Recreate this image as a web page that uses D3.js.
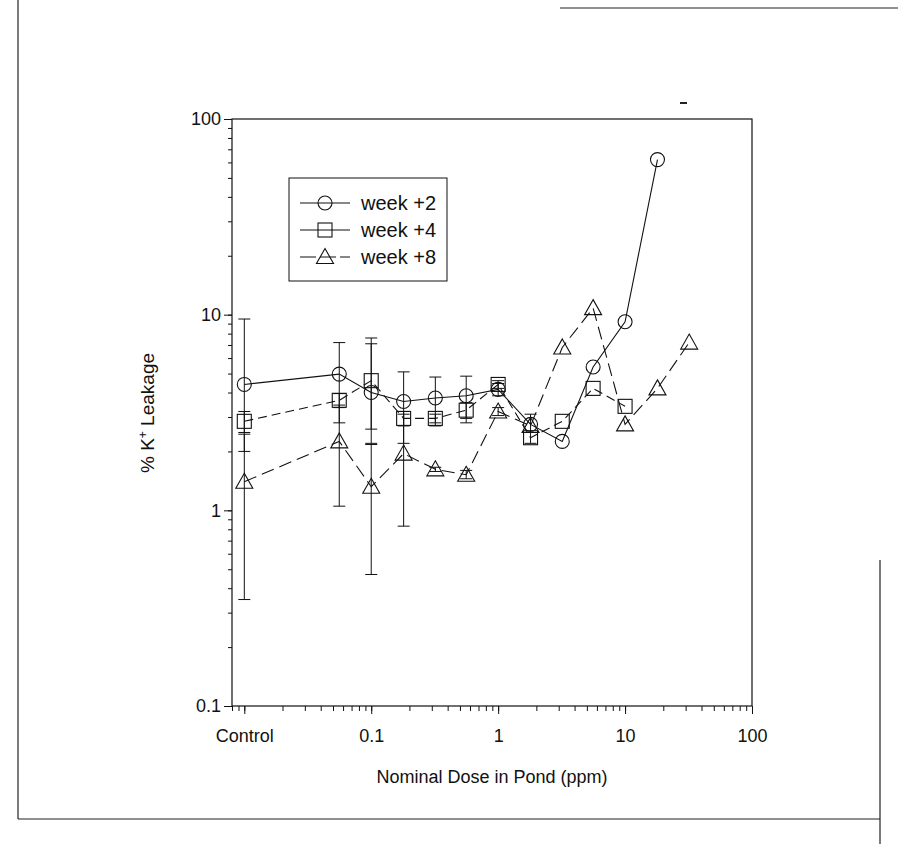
<!DOCTYPE html>
<html><head><meta charset="utf-8">
<script src="https://cdn.jsdelivr.net/npm/d3@7"></script>
<style>body{margin:0;background:#fff;} svg{display:block;} text{font-family:"Liberation Sans",Arial,sans-serif;fill:#111;}</style>
</head><body><svg id="c" width="898" height="844"></svg>
<script>
const doses = [0.01, 0.056, 0.1, 0.18, 0.32, 0.56, 1, 1.8, 3.2, 5.6, 10, 18, 32];
const week2 = [4.4, 4.97, 4.0, 3.6, 3.75, 3.85, 4.15, 2.75, 2.25, 5.4, 9.2, 62, null];
const week2Low = [2.0, 2.8, 2.6, 2.2, 2.7, 2.8, 3.85, 2.5, null, null, null, null, null];
const week2High = [9.5, 7.2, 7.1, 5.1, 4.8, 4.85, 4.45, 3.1, null, null, null, null, null];
const week4 = [2.85, 3.65, 4.6, 2.95, 2.95, 3.25, 4.4, 2.35, 2.85, 4.2, 3.4, null, null];
const week4Low = [2.5, 3.35, 2.2, 2.7, 2.8, 2.95, 4.2, 2.2, null, null, null, null, null];
const week4High = [3.2, 3.95, 7.6, 3.2, 3.1, 3.55, 4.6, 2.5, null, null, null, null, null];
const week8 = [1.4, 2.25, 1.32, 1.95, 1.62, 1.52, 3.2, 2.7, 6.8, 10.8, 2.75, 4.2, 7.2];
const week8Low = [0.35, 1.05, 0.47, 0.83, 1.58, 1.45, 3.05, null, null, null, null, null, null];
const week8High = [2.45, 3.45, 2.17, 3.1, 1.66, 1.6, 3.35, null, null, null, null, null, null];
const seriesNames = ["week +2", "week +4", "week +8"];
const xTickVals = [0.01, 0.1, 1, 10, 100];
const xTickLabels = ["Control", "0.1", "1", "10", "100"];
const yTickVals = [0.1, 1, 10, 100];
const yTickLabels = ["0.1", "1", "10", "100"];

const svg = d3.select("#c");
const x = d3.scaleLog().domain([0.008, 100]).range([232, 752]);
const y = d3.scaleLog().domain([0.1, 100]).range([706, 119]);

// page frame lines (scanned page border)
const frame = svg.append("g").attr("stroke", "#222").attr("fill", "none");
frame.append("line").attr("x1", 18).attr("y1", 0).attr("x2", 18).attr("y2", 819).attr("stroke-width", 1.2);
frame.append("line").attr("x1", 18).attr("y1", 819).attr("x2", 880).attr("y2", 819).attr("stroke-width", 1.2);
frame.append("line").attr("x1", 880).attr("y1", 560).attr("x2", 880).attr("y2", 844).attr("stroke-width", 1.2);
frame.append("line").attr("x1", 560).attr("y1", 8).attr("x2", 898).attr("y2", 8).attr("stroke-width", 1.2);
frame.append("line").attr("x1", 680).attr("y1", 103).attr("x2", 687).attr("y2", 103).attr("stroke-width", 2);

// plot box
svg.append("rect").attr("x", 232).attr("y", 119).attr("width", 520).attr("height", 587)
  .attr("fill", "none").attr("stroke", "#111").attr("stroke-width", 1.2);

// axes
const xMinor = [];
for (let e = -3; e < 2; e++) for (let m = 1; m < 10; m++) { const v = m * Math.pow(10, e); if (v >= 0.008 && v <= 100) xMinor.push(v); }
const yMinor = [];
for (let e = -1; e < 2; e++) for (let m = 1; m < 10; m++) { const v = m * Math.pow(10, e); if (v >= 0.1 && v <= 100) yMinor.push(v); }
yMinor.push(100);

const xAx = svg.append("g").attr("transform", "translate(0,706)")
  .call(d3.axisBottom(x).tickValues(xMinor).tickSize(5).tickFormat(""));
xAx.select(".domain").remove();
const xAxMaj = svg.append("g").attr("transform", "translate(0,706)")
  .call(d3.axisBottom(x).tickValues(xTickVals).tickSize(8).tickPadding(15)
    .tickFormat((d, i) => xTickLabels[i]));
xAxMaj.select(".domain").remove();
xAxMaj.selectAll("text").attr("font-size", 18);

const yAx = svg.append("g").attr("transform", "translate(232,0)")
  .call(d3.axisLeft(y).tickValues(yMinor).tickSize(4).tickFormat(""));
yAx.select(".domain").remove();
const yAxMaj = svg.append("g").attr("transform", "translate(232,0)")
  .call(d3.axisLeft(y).tickValues(yTickVals).tickSize(8).tickPadding(3)
    .tickFormat((d, i) => yTickLabels[i]));
yAxMaj.select(".domain").remove();
yAxMaj.selectAll("text").attr("font-size", 18);
svg.selectAll(".tick line").attr("stroke", "#111");

// axis titles
svg.append("text").attr("x", 492).attr("y", 783).attr("text-anchor", "middle").attr("font-size", 18)
  .text("Nominal Dose in Pond (ppm)");
const yt = svg.append("text").attr("transform", "translate(154,413) rotate(-90)")
  .attr("text-anchor", "middle").attr("font-size", 19);
yt.append("tspan").text("% K");
yt.append("tspan").attr("dy", -7).attr("font-size", 12).text("+");
yt.append("tspan").attr("dy", 7).text(" Leakage");

// series
const series = [
  {name: seriesNames[0], vals: week2, lo: week2Low, hi: week2High, dash: null, shape: "circle"},
  {name: seriesNames[1], vals: week4, lo: week4Low, hi: week4High, dash: "9,5", shape: "square"},
  {name: seriesNames[2], vals: week8, lo: week8Low, hi: week8High, dash: "13,6", shape: "triangle"}
];

function marker(g, shape, cx, cy) {
  if (shape === "circle") g.append("circle").attr("cx", cx).attr("cy", cy).attr("r", 7);
  else if (shape === "square") g.append("rect").attr("x", cx - 7).attr("y", cy - 7).attr("width", 14).attr("height", 14);
  else g.append("path").attr("d", `M${cx},${cy - 8.5}L${cx + 8.5},${cy + 6.5}L${cx - 8.5},${cy + 6.5}Z`);
}

const plot = svg.append("g");
series.forEach(s => {
  const pts = doses.map((d, i) => ({d, v: s.vals[i], lo: s.lo[i], hi: s.hi[i]})).filter(p => p.v != null);
  const eg = plot.append("g").attr("stroke", "#111").attr("stroke-width", 1);
  pts.filter(p => p.lo != null).forEach(p => {
    const cx = x(p.d);
    eg.append("line").attr("x1", cx).attr("x2", cx).attr("y1", y(p.lo)).attr("y2", y(p.hi));
    eg.append("line").attr("x1", cx - 6).attr("x2", cx + 6).attr("y1", y(p.lo)).attr("y2", y(p.lo));
    eg.append("line").attr("x1", cx - 6).attr("x2", cx + 6).attr("y1", y(p.hi)).attr("y2", y(p.hi));
  });
  const line = d3.line().x(p => x(p.d)).y(p => y(p.v));
  plot.append("path").datum(pts).attr("d", line).attr("fill", "none").attr("stroke", "#111")
    .attr("stroke-width", 1.1).attr("stroke-dasharray", s.dash);
  const mg = plot.append("g").attr("fill", "none").attr("stroke", "#111").attr("stroke-width", 1.1);
  pts.forEach(p => marker(mg, s.shape, x(p.d), y(p.v)));
});

// legend
const lg = svg.append("g");
lg.append("rect").attr("x", 289).attr("y", 178).attr("width", 158).attr("height", 103)
  .attr("fill", "#fff").attr("stroke", "#111").attr("stroke-width", 1);
const legendDash = [null, null, "16,4"];
series.forEach((s, i) => {
  const ly = 203 + i * 27;
  lg.append("line").attr("x1", 300).attr("x2", 350).attr("y1", ly).attr("y2", ly)
    .attr("stroke", "#111").attr("stroke-width", 1.1).attr("stroke-dasharray", legendDash[i]);
  const mg = lg.append("g").attr("fill", "none").attr("stroke", "#111").attr("stroke-width", 1.1);
  marker(mg, s.shape, 325, ly);
  lg.append("text").attr("x", 361).attr("y", ly + 7).attr("font-size", 20).text(s.name);
});
</script></body></html>
